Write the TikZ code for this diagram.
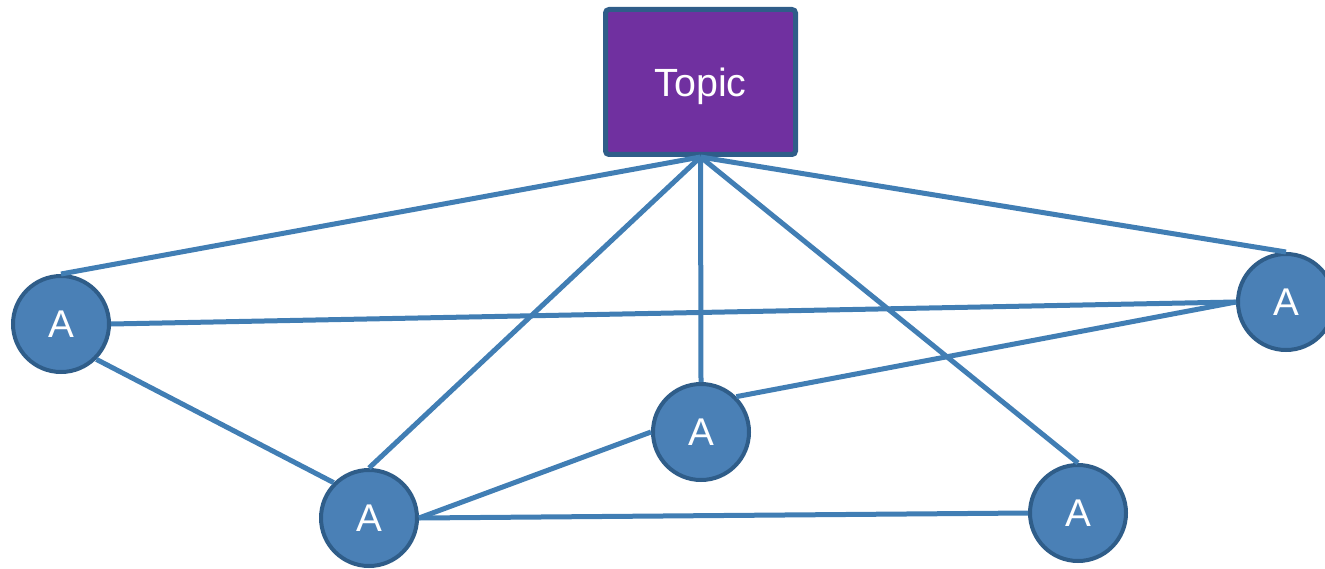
\documentclass[tikz,border=0pt]{standalone}
\usepackage{fontspec}
\setmainfont{Liberation Sans}
\definecolor{linkblue}{HTML}{417EB4}
\definecolor{nodefill}{HTML}{4A80B6}
\definecolor{nodeborder}{HTML}{2F5D89}
\definecolor{topicfill}{HTML}{7030A0}
\begin{document}
\begin{tikzpicture}[x=1cm,y=1cm,
  agent/.style={circle, fill=nodefill, draw=nodeborder, line width=4pt*0.2845, minimum size=0.96cm, inner sep=0pt, text=white, font=\fontsize{11pt}{13pt}\selectfont},
  topicbox/.style={rectangle, rounded corners=1pt, fill=topicfill, draw=nodeborder, line width=5pt*0.2845, minimum width=1.90cm, minimum height=1.45cm, inner sep=0pt, text depth=0pt, text=white, font=\fontsize{11.2pt}{13pt}\selectfont},
  link/.style={draw=linkblue, line width=5pt*0.2845}]
\useasboundingbox (0,0) rectangle (13.25,-5.69);
\node[topicbox] (topic) at (7.005,-0.82) {Topic};
\node[agent] (a1) at (0.61,-3.24) {A};
\node[agent] (a2) at (3.69,-5.18) {A};
\node[agent] (a3) at (7.01,-4.32) {A};
\node[agent] (a4) at (10.78,-5.13) {A};
\node[agent] (a5) at (12.86,-3.02) {A};
\draw[link] (topic.south) -- (a1.north);
\draw[link] (topic.south) -- (a2.north);
\draw[link] (topic.south) -- (a3.north);
\draw[link] (topic.south) -- (a4.north);
\draw[link] (topic.south) -- (a5.north);
\draw[link] (a1.east) -- (a5.west);
\draw[link] (a1.south east) -- (a2.north west);
\draw[link] (a2.east) -- (a3.west);
\draw[link] (a2.east) -- (a4.west);
\draw[link] (a3.north east) -- (a5.west);
\end{tikzpicture}
\end{document}
